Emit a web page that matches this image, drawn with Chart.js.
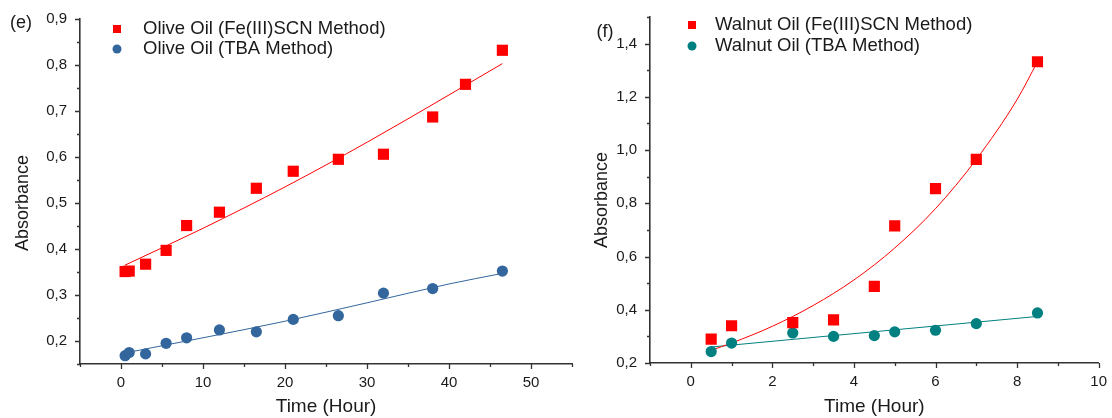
<!DOCTYPE html>
<html>
<head>
<meta charset="utf-8">
<script src="https://cdn.jsdelivr.net/npm/chart.js@4.4.1/dist/chart.umd.min.js"></script>
<style>
  body { margin: 0; background: #fff; }
  #wrap { position: relative; width: 1112px; height: 418px; }
  .panel { position: absolute; top: 0; height: 418px; }
  #left { left: 0; width: 580px; }
  #right { left: 580px; width: 532px; }
</style>
</head>
<body>
<div id="wrap">
  <div class="panel" id="left"><canvas id="chartE"></canvas></div>
  <div class="panel" id="right"><canvas id="chartF"></canvas></div>
</div>
<script>
// (e) olive oil
const oliveTimeFe = [0.5, 1, 3, 5.5, 8, 12, 16.5, 21, 26.5, 32, 38, 42, 46.5];
const oliveFe     = [0.351, 0.352, 0.367, 0.397, 0.451, 0.480, 0.532, 0.569, 0.595, 0.606, 0.687, 0.758, 0.832];
const oliveTimeTba = [0.5, 1, 3, 5.5, 8, 12, 16.5, 21, 26.5, 32, 38, 46.5];
const oliveTba     = [0.168, 0.175, 0.172, 0.195, 0.207, 0.224, 0.220, 0.247, 0.255, 0.304, 0.314, 0.352];
// fitted curves
const oliveFitTime = [0.5, 10, 20, 30, 40, 46.5];
const oliveFeFit   = [0.365, 0.445, 0.535, 0.632, 0.735, 0.803];
const oliveTbaFit  = [0.174, 0.207, 0.243, 0.283, 0.324, 0.347];

// (f) walnut oil
const walnutTime = [0.5, 1, 2.5, 3.5, 4.5, 5, 6, 7, 8.5];
const walnutFe   = [0.290, 0.340, 0.352, 0.362, 0.488, 0.715, 0.855, 0.965, 1.332];
const walnutTba  = [0.243, 0.275, 0.313, 0.300, 0.303, 0.317, 0.323, 0.348, 0.388];
const walnutFeFitTime = [0.5, 1, 2, 3, 4, 5, 6, 7, 8, 8.5];
const walnutFeFit     = [0.248, 0.275, 0.338, 0.416, 0.512, 0.632, 0.780, 0.965, 1.190, 1.332];
const walnutTbaFitTime = [0.5, 8.5];
const walnutTbaFit     = [0.260, 0.375];

const RED = '#ff0000';
const BLUE = '#33669c';
const TEAL = '#008080';
const INK = '#1a1a1a';

Chart.defaults.font.family = "'Liberation Sans', Arial, sans-serif";
Chart.defaults.color = INK;

const pts = (xs, ys) => xs.map((x, i) => ({ x: x, y: ys[i] }));

// tick marks, axis title, legend, panel letter
const decor = {
  id: 'decor',
  afterDraw(chart, args, o) {
    const { ctx, chartArea: a, scales: { x, y } } = chart;
    ctx.save();
    ctx.strokeStyle = '#333';
    ctx.lineWidth = 1.3;
    ctx.beginPath();
    y.ticks.forEach(t => {
      const py = Math.round(y.getPixelForValue(t.value)) + 0.5;
      const len = t.label ? 5 : 3;
      ctx.moveTo(a.left - len, py);
      ctx.lineTo(a.left, py);
    });
    x.ticks.forEach(t => {
      const px = Math.round(x.getPixelForValue(t.value)) + 0.5;
      const len = t.label ? 5 : 3;
      ctx.moveTo(px, a.bottom);
      ctx.lineTo(px, a.bottom + len);
    });
    ctx.stroke();

    ctx.fillStyle = INK;
    ctx.textBaseline = 'middle';
    // y title
    ctx.save();
    ctx.translate(o.yTitle.x, o.yTitle.y);
    ctx.rotate(-Math.PI / 2);
    ctx.textAlign = 'center';
    ctx.font = "18px 'Liberation Sans', Arial, sans-serif";
    ctx.fillText('Absorbance', 0, 0);
    ctx.restore();

    // panel letter
    ctx.textAlign = 'center';
    ctx.font = "18px 'Liberation Sans', Arial, sans-serif";
    ctx.fillText(o.tag.text, o.tag.x, o.tag.y);

    // legend
    ctx.textAlign = 'left';
    ctx.font = "18.5px 'Liberation Sans', Arial, sans-serif";
    o.legend.forEach((item, i) => {
      const ly = o.legendRows[i];
      ctx.fillStyle = item.color;
      if (item.style === 'rect') {
        ctx.fillRect(o.legendX - 4, ly - 4, 8, 8);
      } else {
        ctx.beginPath();
        ctx.arc(o.legendX, ly, 4.5, 0, Math.PI * 2);
        ctx.fill();
      }
      ctx.fillStyle = INK;
      ctx.fillText(item.text, o.textX, ly);
    });
    ctx.restore();
  }
};

function scales(xMin, xMax, xStep, xMajor, yMin, yMax, yStep, yMajor, yWidth, xHeight) {
  const isMajor = (v, m) => Math.abs(Math.round(v / m) * m - v) < 1e-6;
  const axisBorder = { display: true, color: '#333', width: 1.6 };
  const grid = { display: true, drawOnChartArea: false, drawTicks: true, tickLength: 5, tickColor: 'rgba(0,0,0,0)' };
  return {
    x: {
      type: 'linear', min: xMin, max: xMax,
      border: axisBorder, grid: grid,
      ticks: {
        stepSize: xStep, autoSkip: false, maxRotation: 0, padding: 5,
        font: { size: 15 }, color: INK,
        callback: v => (isMajor(v, xMajor) && v >= 0) ? String(Math.round(v)) : ''
      },
      title: { display: true, text: 'Time (Hour)', font: { size: 19 }, color: INK, padding: { top: 0, bottom: 0 } },
      afterFit: s => { s.height = xHeight; }
    },
    y: {
      type: 'linear', min: yMin, max: yMax,
      border: axisBorder, grid: grid,
      ticks: {
        stepSize: yStep, autoSkip: false, padding: 8,
        font: { size: 15 }, color: INK,
        callback: v => isMajor(v, yMajor) ? v.toFixed(1).replace('.', ',') : ''
      },
      afterFit: s => { s.width = yWidth; }
    }
  };
}

function markers(label, data, color, style, r) {
  return { label: label, data: data, showLine: false, pointStyle: style, pointRadius: r,
           pointHoverRadius: r, backgroundColor: color, borderColor: color, borderWidth: 0 };
}
function fitLine(data, color) {
  return { data: data, showLine: true, pointRadius: 0, borderColor: color, borderWidth: 1,
           cubicInterpolationMode: 'monotone', fill: false };
}

new Chart(document.getElementById('chartE'), {
  type: 'scatter',
  data: {
    datasets: [
      markers('Olive Oil (Fe(III)SCN Method)', pts(oliveTimeFe, oliveFe), RED, 'rect', 7.9),
      markers('Olive Oil (TBA Method)', pts(oliveTimeTba, oliveTba), BLUE, 'circle', 5.6),
      fitLine(pts(oliveFitTime, oliveFeFit), RED),
      fitLine(pts(oliveFitTime, oliveTbaFit), BLUE)
    ]
  },
  options: {
    responsive: true, maintainAspectRatio: false, animation: false,
    layout: { padding: { top: 19, right: 7, bottom: 0, left: 0 } },
    plugins: {
      legend: { display: false }, tooltip: { enabled: false },
      decor: {
        yTitle: { x: 23, y: 203 },
        tag: { text: '(e)', x: 21, y: 23 },
        legendX: 117, textX: 143, legendRows: [29, 49],
        legend: [
          { text: 'Olive Oil (Fe(III)SCN Method)', color: RED, style: 'rect' },
          { text: 'Olive Oil (TBA Method)', color: BLUE, style: 'circle' }
        ]
      }
    },
    scales: scales(-5, 55, 5, 10, 0.15, 0.9, 0.05, 0.1, 80, 54)
  },
  plugins: [decor]
});

new Chart(document.getElementById('chartF'), {
  type: 'scatter',
  data: {
    datasets: [
      markers('Walnut Oil (Fe(III)SCN Method)', pts(walnutTime, walnutFe), RED, 'rect', 7.9),
      markers('Walnut Oil (TBA Method)', pts(walnutTime, walnutTba), TEAL, 'circle', 5.6),
      fitLine(pts(walnutFeFitTime, walnutFeFit), RED),
      fitLine(pts(walnutTbaFitTime, walnutTbaFit), TEAL)
    ]
  },
  options: {
    responsive: true, maintainAspectRatio: false, animation: false,
    layout: { padding: { top: 12, right: 12, bottom: 0, left: 0 } },
    plugins: {
      legend: { display: false }, tooltip: { enabled: false },
      decor: {
        yTitle: { x: 22, y: 200 },
        tag: { text: '(f)', x: 25, y: 32 },
        legendX: 112, textX: 135, legendRows: [25, 46],
        legend: [
          { text: 'Walnut Oil (Fe(III)SCN Method)', color: RED, style: 'rect' },
          { text: 'Walnut Oil (TBA Method)', color: TEAL, style: 'circle' }
        ]
      }
    },
    scales: scales(-1, 10, 1, 2, 0.2, 1.5, 0.1, 0.2, 70, 55)
  },
  plugins: [decor]
});
</script>
</body>
</html>
